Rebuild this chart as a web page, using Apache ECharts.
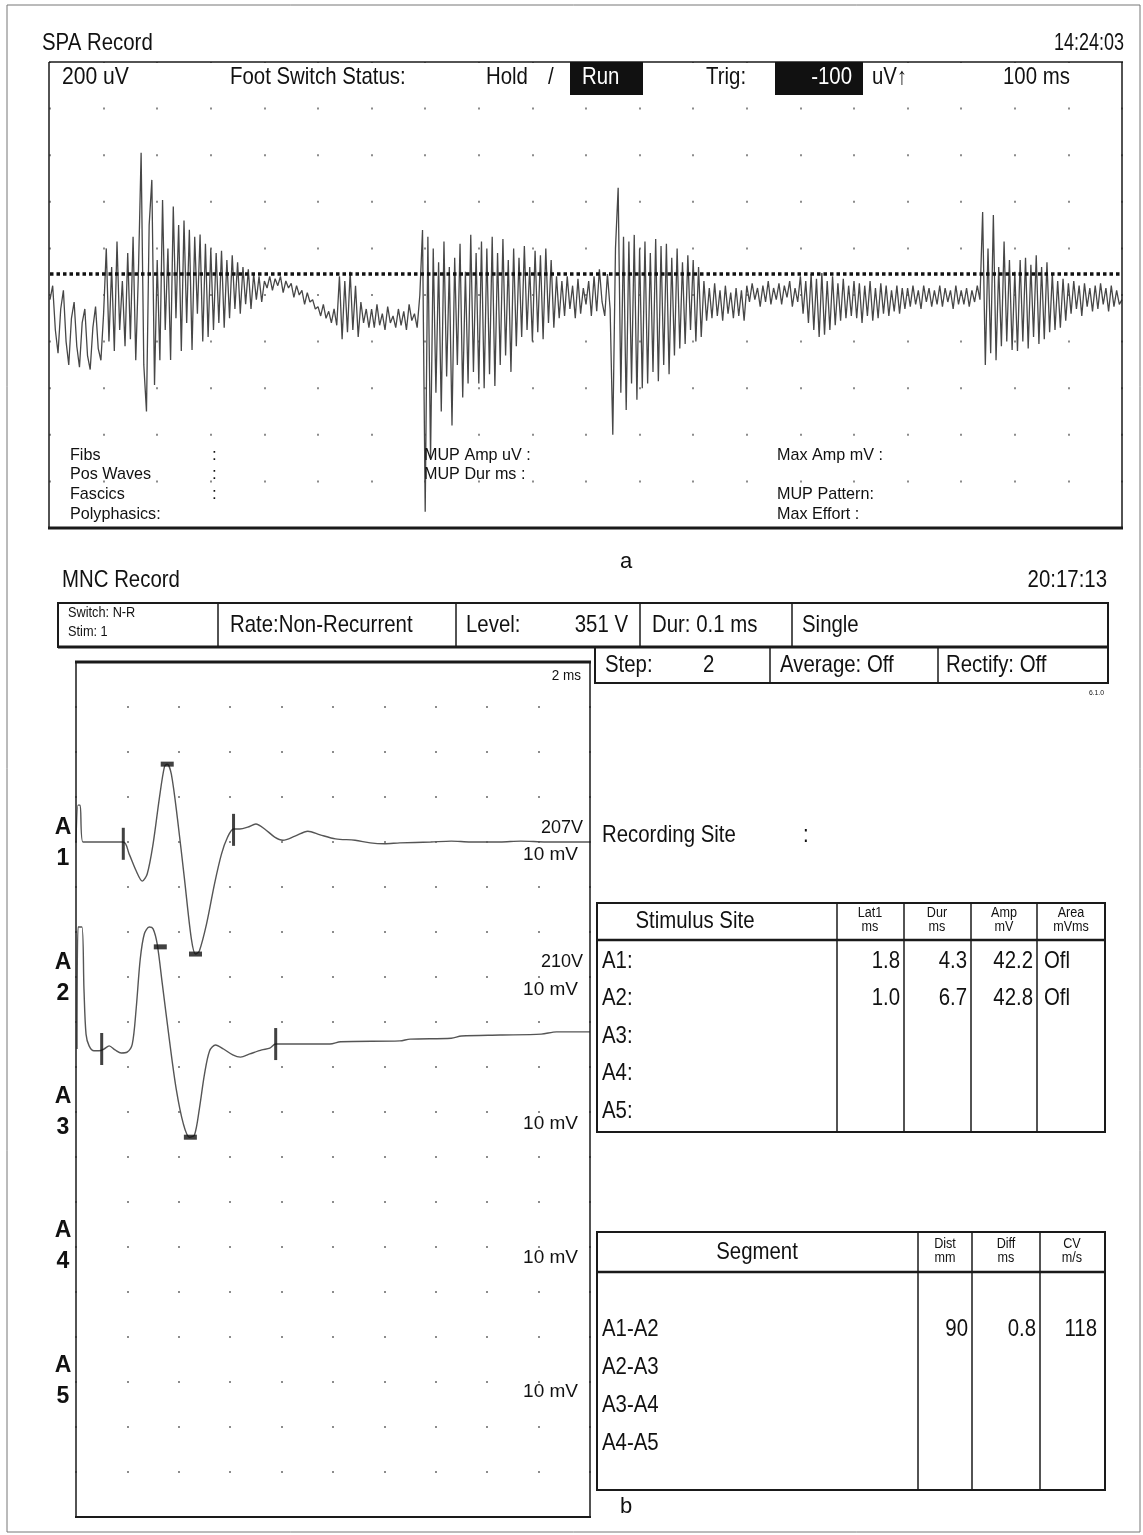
<!DOCTYPE html>
<html>
<head>
<meta charset="utf-8">
<script src="https://cdn.jsdelivr.net/npm/echarts@6/dist/echarts.min.js"></script>
<style>
  html, body { margin: 0; padding: 0; background: #fff; }
  #main { width: 1143px; height: 1535px; }
</style>
</head>
<body>
<div id="main"></div>
<script type="text/javascript">

    // ---- SPA sweep (uV), one sample every 5 ms, 100 ms per division ----
    var emgStep = 5;
    var emgValues = [
        -20, 40, -150, -250, -60, 20, -200, -300, -100, -30, -220, -310, -120, -60, -260, -320, -140, -50, -230, -280,
        -80, 200, -200, 120, -240, 230, -150, 60, -220, 180, -190, 250, -280, 100, 610, -300, -500, 300, 494, -386,
        150, -280, 408, -150, 200, -279, 380, -100, 300, -240, 320, -120, 280, -236, 250, -80, 260, -200, 220, -180,
        200, -150, 180, -120, 190, -140, 150, -100, 170, -60, 140, -80, 120, -40, 110, -60, 90, -20, 80, -30,
        60, 30, 80, 20, 70, 40, 80, 10, 60, 30, 50, -10, 40, 0, 20, -40, 10, -30, -20, -60,
        -50, -90, -40, -100, -70, -120, -60, -130, 80, -190, 60, -160, 100, -150, 40, -180, -30, -120, -60, -140,
        -60, -140, -40, -130, -80, -150, -50, -120, -90, -140, -60, -130, -70, -150, -40, -110, -80, -140, 0, 279,
        -930, 250, -700, 200, -420, 140, -500, 230, -350, 120, -560, 160, -300, 220, -440, 100, -380, 258, -330, 180,
        -380, 230, -400, 200, -340, 250, -390, 180, -300, 240, -260, 150, -330, 200, -220, 160, -180, 210, -150, 120,
        -200, 190, -160, 170, -190, 200, -120, 150, -140, 80, -100, 60, -90, 80, -60, 40, -100, 70, -80, 30,
        -40, 60, -90, 80, -70, 110, -30, -90, 90, -60, -600, 200, 460, -420, 250, -494, 230, -380, 258, -450,
        200, -400, 230, -380, 180, -330, 240, -370, 210, -300, 220, -340, 160, -260, 200, -230, 140, -210, 170, -150,
        150, -200, 120, -180, 60, -110, 30, -100, 50, -90, 20, -110, 40, -80, 10, -100, 30, -90, 20, -110,
        40, -30, 50, -20, 30, -50, 40, -30, 60, -40, 30, -20, 50, -40, 40, -10, 60, -50, 30, -30,
        80, -80, 60, -120, 90, -150, 70, -180, 94, -170, 60, -150, 80, -130, 50, -110, 70, -100, 40, -90,
        60, -100, 50, -120, 40, -90, 60, -110, 30, -100, 50, -80, 40, -90, 20, -70, 40, -80, 30, -60,
        30, -50, 40, -40, 20, -60, 40, -30, 30, -50, 20, -40, 40, -50, 30, -30, 20, -60, 40, -40,
        20, -40, 30, -50, 20, -30, 40, -20, 356, -300, 200, -250, 343, -280, 120, -220, 230, -200, 150, -236,
        100, -240, 150, -200, 160, -230, 130, -180, 170, -210, 120, -190, 140, -160, 90, -150, 60, -140, 70, -110,
        50, -80, 60, -60, 40, -90, 50, -50, 30, -70, 40, -60, 50, -40, 30, -70, 40, -50, 20, -40, -20
    ];
    var emgTrigLevel = 90;

    // ---- MNC traces: [ms, mV from channel baseline], 2 ms / 10 mV per division ----
    var a1Trace = [[0, 0], [0.08, 8.2], [0.16, 8.2], [0.27, 0], [1.84, 0], [2.07, -2.7], [2.34, -6.4], [2.58, -8.7],
        [2.77, -7.1], [3.0, -0.4], [3.24, 9.6], [3.44, 16.7], [3.55, 17.3], [3.71, 15.1], [3.95, 5.1], [4.22, -8.2],
        [4.49, -21.6], [4.65, -24.9], [4.8, -24.2], [5.08, -18.2], [5.39, -9.3], [5.66, -2.7], [5.9, 1.1], [6.13, 2.9],
        [6.37, 2.9], [6.68, 3.3], [7.0, 4.0], [7.34, 2.9], [7.73, 1.1], [8.05, 0.4], [8.52, 1.3], [9.02, 2.4],
        [9.5, 1.6], [10.1, 0.7], [10.86, 0.4], [11.45, -0.2], [12.0, -0.4], [12.6, -0.2], [13.8, 0], [14.6, 0.2],
        [15.35, 0], [16.5, 0], [17.3, 0.2], [18.3, 0], [20, 0]];
    var a2Trace = [[0.04, 0], [0.08, 27.1], [0.23, 27.1], [0.31, 13.3], [0.39, 3.3], [0.51, 0.7], [0.7, -0.4],
        [0.9, -0.4], [1.09, 0], [1.29, 0.7], [1.52, -0.2], [1.76, -0.9], [1.99, -0.7], [2.19, 1.1], [2.34, 8.9],
        [2.5, 20], [2.66, 25.6], [2.85, 27.1], [3.0, 26.7], [3.16, 23.3], [3.36, 14.4], [3.63, 2.2], [3.9, -8.9],
        [4.18, -16.7], [4.41, -19.6], [4.61, -19.1], [4.8, -13.3], [5.0, -5.6], [5.2, -0.4], [5.43, 0.9], [5.74, 0],
        [6.1, -1.3], [6.4, -1.8], [6.76, -1.1], [7.23, -0.2], [7.54, 0.2], [7.77, 1.1], [9.88, 1.1], [10.3, 1.6],
        [12.6, 1.8], [13.0, 2.2], [14.6, 2.4], [15.0, 2.9], [16.5, 3.1], [18.1, 3.3], [18.7, 3.8], [20, 3.8]];
    var channelBase = [150, 104];          // baselines of A1 / A2 on the shared 0..190 mV axis
    var a1Ticks = [[1.84, -0.4], [6.13, 2.7]];
    var a1Bars = [[3.55, 17.3], [4.65, -24.9]];
    var a2Ticks = [[1.0, 0], [7.77, 1.1]];
    var a2Bars = [[3.28, 22.7], [4.45, -19.6]];

    // ---- tables ----
    var stimSites = ['A1:', 'A2:', 'A3:', 'A4:', 'A5:'];
    var stimLat1 = ['1.8', '1.0', '', '', ''];
    var stimDur = ['4.3', '6.7', '', '', ''];
    var stimAmp = ['42.2', '42.8', '', '', ''];
    var stimArea = ['Ofl', 'Ofl', '', '', ''];
    var segNames = ['A1-A2', 'A2-A3', 'A3-A4', 'A4-A5'];
    var segDist = ['90', '', '', ''];
    var segDiff = ['0.8', '', '', ''];
    var segCv = ['118', '', '', ''];
    var channelNames = ['1', '2', '3', '4', '5'];
    var channelVolts = ['207V', '210V', '', '', ''];

    // no narrow face installed: squeeze Liberation Sans horizontally instead
    var NARROW = '"Liberation Sans Narrow", "Liberation Sans", Arial, sans-serif';
    var SANS = '"Liberation Sans", Arial, sans-serif';

    var g = [];
    function txt(x, y, s, size, o) {
        o = o || {};
        var sx = o.sx || (o.ff ? 1 : 0.85);
        g.push({
            type: 'text', x: x, y: y, z: 20, scaleX: sx,
            style: {
                text: s, fontSize: size, fontFamily: o.ff || NARROW, fontWeight: o.fw || 'normal',
                fill: o.color || '#111', align: o.align || 'left', textAlign: o.align || 'left',
                verticalAlign: 'middle', textVerticalAlign: 'middle'
            }
        });
    }
    function ln(x1, y1, x2, y2, w, c) {
        g.push({ type: 'line', z: 15, shape: { x1: x1, y1: y1, x2: x2, y2: y2 }, style: { stroke: c || '#1a1a1a', lineWidth: w || 1.5 } });
    }
    function box(x, y, w, h, lw, fill, stroke) {
        g.push({ type: 'rect', z: 15, shape: { x: x, y: y, width: w, height: h },
            style: { fill: fill || 'none', stroke: stroke || (fill ? null : '#1a1a1a'), lineWidth: lw || 1.5 } });
    }

    // outer frame
    box(7, 5, 1133, 1527, 1, null, '#777');

    // ---- panel a ----
    txt(42, 43, 'SPA Record', 24);
    txt(1124, 43, '14:24:03', 24, { align: 'right', sx: 0.75 });
    ln(49, 62, 1123, 62, 1.5);
    ln(49, 62, 49, 529, 1.5);
    ln(1122, 62, 1122, 529, 1.5);
    ln(48, 528, 1123, 528, 3);
    txt(62, 77, '200 uV', 24, { sx: 0.88 });
    txt(230, 77, 'Foot Switch Status:', 24);
    txt(486, 77, 'Hold', 24);
    txt(548, 77, '/', 24);
    box(570, 62, 73, 33, 0, '#111');
    txt(582, 77, 'Run', 24, { color: '#fff' });
    txt(706, 77, 'Trig:', 24);
    box(775, 62, 88, 33, 0, '#111');
    txt(852, 77, '-100', 24, { color: '#fff', align: 'right' });
    txt(872, 77, 'uV\u2191', 24);
    txt(1003, 77, '100 ms', 24);

    txt(70, 455, 'Fibs', 17, { ff: SANS, sx: 0.95 });
    txt(70, 474, 'Pos Waves', 17, { ff: SANS, sx: 0.95 });
    txt(70, 494, 'Fascics', 17, { ff: SANS, sx: 0.95 });
    txt(70, 514, 'Polyphasics:', 17, { ff: SANS, sx: 0.95 });
    txt(212, 455, ':', 17, { ff: SANS });
    txt(212, 474, ':', 17, { ff: SANS });
    txt(212, 494, ':', 17, { ff: SANS });
    txt(424, 455, 'MUP Amp uV :', 17, { ff: SANS, sx: 0.95 });
    txt(424, 474, 'MUP Dur ms :', 17, { ff: SANS, sx: 0.95 });
    txt(777, 455, 'Max Amp mV :', 17, { ff: SANS, sx: 0.95 });
    txt(777, 494, 'MUP Pattern:', 17, { ff: SANS, sx: 0.95 });
    txt(777, 514, 'Max Effort :', 17, { ff: SANS, sx: 0.95 });
    txt(620, 562, 'a', 22, { ff: SANS });

    // ---- panel b header ----
    txt(62, 580, 'MNC Record', 24);
    txt(1107, 580, '20:17:13', 24, { align: 'right' });
    box(58, 603, 1050, 44, 2);
    ln(58, 647, 1108, 647, 3);
    [218, 456, 640, 792].forEach(function (x) { ln(x, 603, x, 647, 1.5); });
    txt(68, 613, 'Switch: N-R', 15);
    txt(68, 632, 'Stim: 1', 15);
    txt(230, 625, 'Rate:Non-Recurrent', 24);
    txt(466, 625, 'Level:', 24);
    txt(628, 625, '351 V', 24, { align: 'right' });
    txt(652, 625, 'Dur: 0.1 ms', 24);
    txt(802, 625, 'Single', 24);
    box(595, 647, 513, 36, 2);
    [770, 938].forEach(function (x) { ln(x, 647, x, 683, 1.5); });
    txt(605, 665, 'Step:', 24);
    txt(703, 665, '2', 24);
    txt(780, 665, 'Average: Off', 24);
    txt(946, 665, 'Rectify: Off', 24);
    txt(1104, 693, '6.1.0', 8, { align: 'right' });

    // trace frame
    ln(75, 662, 591, 662, 3);
    ln(76, 662, 76, 1518, 1.5);
    ln(590, 662, 590, 1518, 1.5);
    ln(75, 1517, 591, 1517, 2);
    txt(581, 676, '2 ms', 15, { ff: SANS, sx: 0.9, align: 'right' });
    channelNames.forEach(function (n, i) {
        var y = 828 + i * 134.3;
        txt(63, y, 'A', 23, { ff: SANS, fw: 'bold', align: 'center' });
        txt(63, y + 31, n, 23, { ff: SANS, fw: 'bold', align: 'center' });
        if (channelVolts[i]) txt(583, y, channelVolts[i], 18, { ff: SANS, align: 'right' });
        txt(578, y + 27, '10 mV', 19, { ff: SANS, align: 'right' });
    });

    txt(602, 835, 'Recording Site', 24);
    txt(803, 835, ':', 24);

    // stimulus table
    box(597, 903, 508, 229, 2);
    ln(597, 940, 1105, 940, 2.5);
    [837, 904, 971, 1037].forEach(function (x) { ln(x, 903, x, 1132, 1.5); });
    txt(695, 921, 'Stimulus Site', 24, { align: 'center' });
    [['Lat1', 'ms', 870], ['Dur', 'ms', 937], ['Amp', 'mV', 1004], ['Area', 'mVms', 1071]].forEach(function (h) {
        txt(h[2], 913, h[0], 14, { ff: SANS, sx: 0.9, align: 'center' });
        txt(h[2], 927, h[1], 14, { ff: SANS, sx: 0.9, align: 'center' });
    });
    stimSites.forEach(function (s, i) {
        var y = 961 + i * 37.5;
        txt(602, y, s, 24);
        if (stimLat1[i]) txt(900, y, stimLat1[i], 24, { align: 'right' });
        if (stimDur[i]) txt(967, y, stimDur[i], 24, { align: 'right' });
        if (stimAmp[i]) txt(1033, y, stimAmp[i], 24, { align: 'right' });
        if (stimArea[i]) txt(1044, y, stimArea[i], 24);
    });

    // segment table
    box(597, 1232, 508, 258, 2);
    ln(597, 1272, 1105, 1272, 2.5);
    [918, 972, 1040].forEach(function (x) { ln(x, 1232, x, 1490, 1.5); });
    txt(757, 1252, 'Segment', 24, { align: 'center' });
    [['Dist', 'mm', 945], ['Diff', 'ms', 1006], ['CV', 'm/s', 1072]].forEach(function (h) {
        txt(h[2], 1244, h[0], 14, { ff: SANS, sx: 0.9, align: 'center' });
        txt(h[2], 1258, h[1], 14, { ff: SANS, sx: 0.9, align: 'center' });
    });
    segNames.forEach(function (s, i) {
        var y = 1329 + i * 38;
        txt(602, y, s, 24);
        if (segDist[i]) txt(968, y, segDist[i], 24, { align: 'right' });
        if (segDiff[i]) txt(1036, y, segDiff[i], 24, { align: 'right' });
        if (segCv[i]) txt(1097, y, segCv[i], 24, { align: 'right' });
    });
    txt(620, 1507, 'b', 22, { ff: SANS });

    function shift(arr, base) {
        return arr.map(function (p) { return [p[0], base + p[1]]; });
    }
    var emgData = emgValues.map(function (v, i) { return [i * emgStep, v]; });

    var hiddenAxis = { axisLine: { show: false }, axisTick: { show: false }, axisLabel: { show: false } };
    var myChart = echarts.init(document.getElementById('main'));
    myChart.setOption({
        animation: false,
        backgroundColor: '#fff',
        grid: [
            { left: 50, top: 62, width: 1072, height: 466 },
            { left: 76, top: 662, width: 514, height: 855 }
        ],
        xAxis: [
            Object.assign({ gridIndex: 0, type: 'value', min: 0, max: 2000, interval: 100,
                splitLine: { show: true, lineStyle: { color: '#8c8c8c', width: 2, type: [2, 44.6], dashOffset: 1 } } }, hiddenAxis),
            Object.assign({ gridIndex: 1, type: 'value', min: 0, max: 20, interval: 2,
                splitLine: { show: true, lineStyle: { color: '#8c8c8c', width: 2, type: [2, 43], dashOffset: 1 } } }, hiddenAxis)
        ],
        yAxis: [
            { gridIndex: 0, type: 'value', min: -1000, max: 1000, show: false },
            { gridIndex: 1, type: 'value', min: 0, max: 190, show: false }
        ],
        series: [
            {
                type: 'line', xAxisIndex: 0, yAxisIndex: 0, data: emgData, symbol: 'none', sampling: null,
                lineStyle: { color: '#474747', width: 1.3 },
                markLine: {
                    silent: true, symbol: ['none', 'none'], label: { show: false },
                    lineStyle: { color: '#111', width: 3.5, type: [3.5, 3] },
                    data: [{ yAxis: emgTrigLevel }]
                }
            },
            {
                type: 'line', xAxisIndex: 1, yAxisIndex: 1, data: shift(a1Trace, channelBase[0]), symbol: 'none',
                smooth: 0.3, lineStyle: { color: '#555', width: 1.4 }
            },
            {
                type: 'line', xAxisIndex: 1, yAxisIndex: 1, data: shift(a2Trace, channelBase[1]), symbol: 'none',
                smooth: 0.3, lineStyle: { color: '#555', width: 1.4 }
            },
            {
                type: 'scatter', xAxisIndex: 1, yAxisIndex: 1, symbol: 'rect', symbolSize: [3, 32],
                itemStyle: { color: '#111' }, z: 5,
                data: shift(a1Ticks, channelBase[0]).concat(shift(a2Ticks, channelBase[1]))
            },
            {
                type: 'scatter', xAxisIndex: 1, yAxisIndex: 1, symbol: 'rect', symbolSize: [13, 5],
                itemStyle: { color: '#111' }, z: 5,
                data: shift(a1Bars, channelBase[0]).concat(shift(a2Bars, channelBase[1]))
            }
        ],
        graphic: { elements: g }
    });
</script>
</body>
</html>
